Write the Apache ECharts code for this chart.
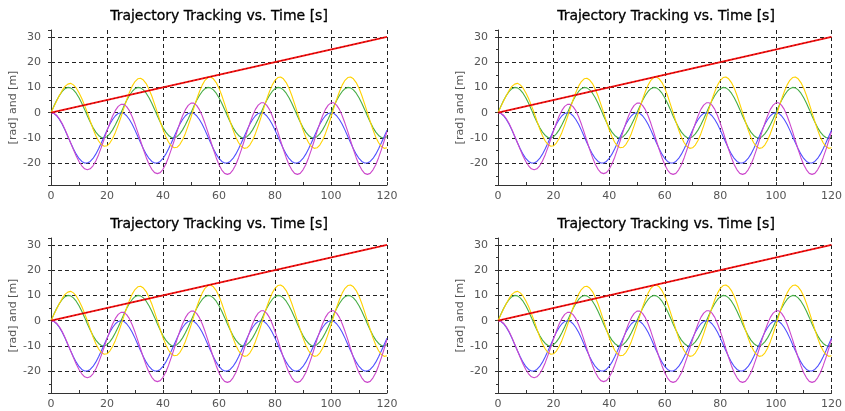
<!DOCTYPE html>
<html>
<head>
<meta charset="utf-8">
<script src="https://cdn.jsdelivr.net/npm/echarts@6/dist/echarts.min.js"></script>
<style>
html, body { margin: 0; padding: 0; background: #fff; }
#main { width: 845px; height: 411px; }
</style>
</head>
<body>
<div id="main"></div>
<script>
// sample times [s], one per second
var time = [];
for (var t = 0; t <= 120; t++) time.push(t);

// reference sine (green)
var green = [
  0, 2.5, 4.8, 6.8, 8.4, 9.5, 10, 9.8, 9, 7.7, 5.9, 3.7, 1.3, -1.3, -3.7, -5.9, -7.7, -9, -9.8, -10, -9.5, -8.4, -6.8, -4.8, -2.5,
  0, 2.5, 4.8, 6.8, 8.4, 9.5, 10, 9.8, 9, 7.7, 5.9, 3.7, 1.3, -1.3, -3.7, -5.9, -7.7, -9, -9.8, -10, -9.5, -8.4, -6.8, -4.8, -2.5,
  0, 2.5, 4.8, 6.8, 8.4, 9.5, 10, 9.8, 9, 7.7, 5.9, 3.7, 1.3, -1.3, -3.7, -5.9, -7.7, -9, -9.8, -10, -9.5, -8.4, -6.8, -4.8, -2.5,
  0, 2.5, 4.8, 6.8, 8.4, 9.5, 10, 9.8, 9, 7.7, 5.9, 3.7, 1.3, -1.3, -3.7, -5.9, -7.7, -9, -9.8, -10, -9.5, -8.4, -6.8, -4.8, -2.5,
  0, 2.5, 4.8, 6.8, 8.4, 9.5, 10, 9.8, 9, 7.7, 5.9, 3.7, 1.3, -1.3, -3.7, -5.9, -7.7, -9, -9.8, -10, -9.5
];

// tracked sine (yellow)
var yellow = [
  0, 2.3, 4.6, 6.8, 8.8, 10.4, 11.3, 11.6, 11.0, 9.8, 7.9, 5.6, 2.9, 0,
  -3.3, -6.4, -9.1, -11.2, -12.6, -13.3, -13.1, -12.0, -10.2, -7.8, -4.9,
  -1.7,
  1.7, 5.0, 8.0, 10.5, 12.3, 13.4, 13.6, 12.9, 11.5, 9.3, 6.6, 3.4, 0,
  -3.5, -6.7, -9.5, -11.7, -13.2, -13.9, -13.7, -12.6, -10.7, -8.2, -5.1,
  -1.8,
  1.8, 5.2, 8.3, 10.9, 12.8, 13.9, 14.1, 13.4, 11.9, 9.7, 6.8, 3.5, 0,
  -3.5, -6.8, -9.7, -11.9, -13.4, -14.1, -13.9, -12.8, -10.9, -8.3, -5.2,
  -1.8,
  1.8, 5.2, 8.3, 10.9, 12.8, 13.9, 14.1, 13.4, 11.9, 9.7, 6.8, 3.5, 0,
  -3.5, -6.8, -9.7, -11.9, -13.4, -14.1, -13.9, -12.8, -10.9, -8.3, -5.2,
  -1.8,
  1.8, 5.2, 8.3, 10.9, 12.8, 13.9, 14.1, 13.4, 11.9, 9.7, 6.8, 3.5, 0,
  -3.5, -6.8, -9.7, -11.9, -13.4, -14.1, -13.9
];

// reference cosine (blue)
var blue = [
  0, -0.3, -1.2, -2.7, -4.6, -6.9, -9.4, -11.9, -14.3, -16.4, -18.1, -19.3, -19.9, -19.9, -19.3, -18.1, -16.4, -14.3, -11.9, -9.4, -6.9, -4.6, -2.7, -1.2, -0.3,
  0, -0.3, -1.2, -2.7, -4.6, -6.9, -9.4, -11.9, -14.3, -16.4, -18.1, -19.3, -19.9, -19.9, -19.3, -18.1, -16.4, -14.3, -11.9, -9.4, -6.9, -4.6, -2.7, -1.2, -0.3,
  0, -0.3, -1.2, -2.7, -4.6, -6.9, -9.4, -11.9, -14.3, -16.4, -18.1, -19.3, -19.9, -19.9, -19.3, -18.1, -16.4, -14.3, -11.9, -9.4, -6.9, -4.6, -2.7, -1.2, -0.3,
  0, -0.3, -1.2, -2.7, -4.6, -6.9, -9.4, -11.9, -14.3, -16.4, -18.1, -19.3, -19.9, -19.9, -19.3, -18.1, -16.4, -14.3, -11.9, -9.4, -6.9, -4.6, -2.7, -1.2, -0.3,
  0, -0.3, -1.2, -2.7, -4.6, -6.9, -9.4, -11.9, -14.3, -16.4, -18.1, -19.3, -19.9, -19.9, -19.3, -18.1, -16.4, -14.3, -11.9, -9.4, -6.9
];

// tracked cosine (magenta)
var magenta = [
  0, -0.2, -1.0, -2.4, -4.3, -6.6, -9.2, -11.9, -14.6, -17.1, -19.3, -21.0, -22.2, -22.6, -22.2,
  -21.0, -19.1, -16.6, -13.6, -10.4, -7.2, -4.1, -1.3, 0.9, 2.5, 3.3,
  3.3, 2.4, 0.8, -1.6, -4.5, -7.8, -11.2, -14.6, -17.7, -20.4, -22.4, -23.7, -24.1,
  -23.7, -22.4, -20.3, -17.6, -14.4, -11.0, -7.5, -4.1, -1.2, 1.2, 2.9, 3.8,
  3.8, 2.9, 1.2, -1.2, -4.2, -7.6, -11.1, -14.6, -17.8, -20.6, -22.7, -24.0, -24.4,
  -24.0, -22.6, -20.6, -17.8, -14.6, -11.1, -7.5, -4.2, -1.2, 1.3, 3.0, 3.9,
  3.9, 3.0, 1.3, -1.2, -4.2, -7.5, -11.1, -14.6, -17.8, -20.6, -22.6, -24.0, -24.4,
  -24.0, -22.6, -20.6, -17.8, -14.6, -11.1, -7.5, -4.2, -1.2, 1.3, 3.0, 3.9,
  3.9, 3.0, 1.3, -1.2, -4.2, -7.5, -11.1, -14.6, -17.8, -20.6, -22.6, -24.0, -24.4,
  -24.0, -22.6, -20.6, -17.8, -14.6, -11.1, -7.5
];

// ramp (red, with black dashed reference on top)
var rampTime = [0, 120];
var rampValue = [0, 30];

var titleText = 'Trajectory Tracking vs. Time [s]';
var yName = '[rad] and [m]';

var chart = echarts.init(document.getElementById('main'));

var panels = [
  { left: 51, top: 30 },
  { left: 498, top: 30 },
  { left: 51, top: 238 },
  { left: 498, top: 238 }
];
var W = 336, H = 155;

function zip(xs, ys) {
  var out = [];
  for (var i = 0; i < xs.length; i++) out.push([xs[i], ys[i]]);
  return out;
}

var gridLine = { show: true, lineStyle: { color: '#222', width: 1, type: [4, 3] } };
var labelStyle = { color: '#555', fontSize: 11, fontFamily: 'DejaVu Sans' };

var option = { animation: false, backgroundColor: '#fff', title: [], grid: [], xAxis: [], yAxis: [], series: [] };

panels.forEach(function (p, i) {
  option.title.push({
    text: titleText,
    left: p.left + W / 2,
    top: p.top - 21,
    textAlign: 'center',
    padding: 0,
    textStyle: { fontSize: 14, fontWeight: 'normal', color: '#000', fontFamily: 'DejaVu Sans', textBorderColor: '#000', textBorderWidth: 0.3 }
  });
  option.grid.push({ left: p.left, top: p.top, width: W, height: H });
  option.xAxis.push({
    type: 'value', gridIndex: i, min: 0, max: 120, interval: 20,
    axisLine: { onZero: false, lineStyle: { color: '#333' } },
    axisTick: { show: true, inside: true, length: 3, lineStyle: { color: '#333' } },
    minorTick: { show: true, splitNumber: 2, length: 3, lineStyle: { color: '#333' } },
    axisLabel: Object.assign({ margin: 6 }, labelStyle),
    splitLine: Object.assign({ showMinLine: false }, gridLine)
  });
  option.yAxis.push({
    type: 'value', gridIndex: i, min: -28.6, max: 32.7, splitNumber: 6,
    name: yName, nameLocation: 'middle', nameGap: 32,
    nameTextStyle: { color: '#555', fontSize: 11, fontFamily: 'DejaVu Sans' },
    axisLine: { show: true, onZero: false, lineStyle: { color: '#333' } },
    axisTick: { show: true, length: 3, lineStyle: { color: '#333' } },
    minorTick: { show: true, splitNumber: 2, length: 2, lineStyle: { color: '#333' } },
    axisLabel: Object.assign({ margin: 10, showMinLabel: false, showMaxLabel: false }, labelStyle),
    splitLine: Object.assign({ showMinLine: false, showMaxLine: false }, gridLine)
  });
  var base = { type: 'line', xAxisIndex: i, yAxisIndex: i, showSymbol: false, symbol: 'none', silent: true };
  option.series.push(
    Object.assign({ data: zip(time, green), lineStyle: { color: '#45ad45', width: 1.1 } }, base),
    Object.assign({ data: zip(time, blue), lineStyle: { color: '#5050ff', width: 1.1 } }, base),
    Object.assign({ data: zip(time, yellow), lineStyle: { color: '#ffd200', width: 1.1 } }, base),
    Object.assign({ data: zip(time, magenta), lineStyle: { color: '#cc48cc', width: 1.1 } }, base),
    Object.assign({ data: zip(rampTime, rampValue), lineStyle: { color: '#ff1010', width: 1.8 } }, base),
    Object.assign({ data: zip(rampTime, rampValue), lineStyle: { color: '#300', width: 0.6, type: [1.5, 2.5] } }, base)
  );
});

chart.setOption(option);
</script>
</body>
</html>
